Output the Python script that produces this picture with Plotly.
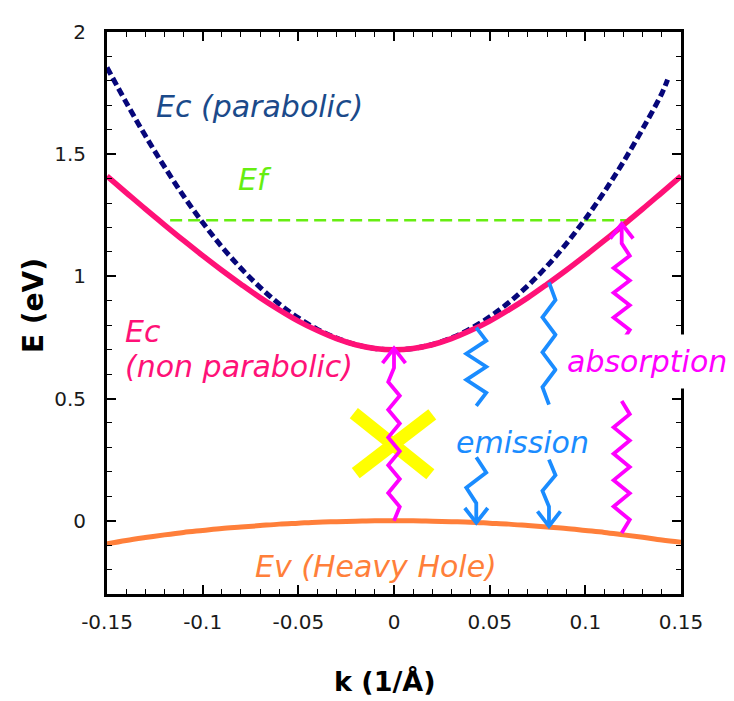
import plotly.graph_objects as go

# ---------------- data ----------------
K = [-0.15, -0.14, -0.13, -0.12, -0.11, -0.10, -0.09, -0.08, -0.07, -0.06, -0.05,
     -0.04, -0.03, -0.02, -0.01, 0.0, 0.01, 0.02, 0.03, 0.04, 0.05, 0.06, 0.07,
     0.08, 0.09, 0.10, 0.11, 0.12, 0.13, 0.14, 0.15]
EC_NONPARA = [1.410, 1.343, 1.276, 1.211, 1.147, 1.085, 1.025, 0.968, 0.913, 0.863, 0.817,
              0.778, 0.745, 0.720, 0.705, 0.700, 0.705, 0.720, 0.745, 0.778, 0.817, 0.863,
              0.913, 0.968, 1.025, 1.085, 1.147, 1.211, 1.276, 1.343, 1.410]
EV_HH = [-0.095, -0.081, -0.069, -0.058, -0.048, -0.040, -0.032, -0.026, -0.020, -0.014, -0.010,
         -0.006, -0.004, -0.002, 0.000, 0.000, 0.000, -0.002, -0.004, -0.006, -0.010, -0.014,
         -0.020, -0.026, -0.032, -0.040, -0.048, -0.058, -0.068, -0.079, -0.088]

K_PARA = [-0.15, -0.14, -0.13, -0.12, -0.11, -0.10, -0.09, -0.08, -0.07, -0.06, -0.05,
          -0.04, -0.03, -0.02, -0.01, 0.0, 0.01, 0.02, 0.03, 0.04, 0.05, 0.06, 0.07,
          0.08, 0.09, 0.10, 0.11, 0.12, 0.13, 0.14, 0.143]
EC_PARA = [1.855, 1.712, 1.576, 1.449, 1.329, 1.220, 1.121, 1.033, 0.955, 0.887, 0.830,
           0.783, 0.747, 0.721, 0.705, 0.700, 0.705, 0.721, 0.748, 0.786, 0.834, 0.893,
           0.962, 1.042, 1.133, 1.235, 1.347, 1.470, 1.604, 1.749, 1.805]

EF_K = [-0.117, 0.122]
EF_E = [1.23, 1.23]

X_TICKS = [-0.15, -0.1, -0.05, 0, 0.05, 0.1, 0.15]
X_TICK_TEXT = ["-0.15", "-0.1", "-0.05", "0", "0.05", "0.1", "0.15"]
Y_TICKS = [0, 0.5, 1, 1.5, 2]
Y_TICK_TEXT = ["0", "0.5", "1", "1.5", "2"]

# transitions: k position, list of (E_from, E_to) segments; last segment ends at arrow tip
ABS_K = [0.0, 0.119]
ABS_SEGMENTS = [[(0.0, 0.705)], [(-0.05, 0.49), (0.73, 1.215)]]
EMI_K = [0.043, 0.081]
EMI_SEGMENTS = [[(0.79, 0.47), (0.26, -0.008)], [(0.975, 0.475), (0.25, -0.022)]]

# forbidden transition cross (two strokes)
CROSS_K = [[-0.021, 0.019], [0.020, -0.020]]
CROSS_E = [[0.44, 0.19], [0.435, 0.195]]

# ---------------- styles ----------------
PINK = "#FF1177"
NAVY = "#06067A"
ORANGE = "#FF7F3A"
GREEN = "#66EE11"
MAGENTA = "#FF00FF"
BLUE = "#1A8CFF"
YELLOW = "#FFFF00"
FONT = "DejaVu Sans"

ABS_AMP = [0.0030, 0.0042]
ABS_HALF = [0.058, 0.052]
EMI_AMP = [0.0052, 0.0034]
EMI_HALF = [0.056, 0.075]
HEAD_W = 0.006
HEAD_H = 0.06

# page body has an 8px default margin; compensate so the plot lands where the reference is
BODY = 8


def zigzag(k, e0, e1, amp, half, straight):
    sgn = 1 if e1 > e0 else -1
    ez = e1 - sgn * straight
    n = max(2, round(abs(ez - e0) / half))
    step = (ez - e0) / n
    ks, es = [k], [e0]
    for i in range(1, n):
        ks.append(k + amp * (1 if i % 2 else -1))
        es.append(e0 + i * step)
    ks.append(k)
    es.append(ez)
    if straight > 0:
        ks.append(k)
        es.append(e1)
    return ks, es


fig = go.Figure()

fig.add_trace(go.Scatter(x=EF_K, y=EF_E, mode="lines",
                         line=dict(color=GREEN, width=2.5, dash="12px,6px"), hoverinfo="skip"))
fig.add_trace(go.Scatter(x=K_PARA, y=EC_PARA, mode="lines",
                         line=dict(color=NAVY, width=5, dash="8px,4px", shape="spline"), hoverinfo="skip"))
fig.add_trace(go.Scatter(x=K, y=EC_NONPARA, mode="lines",
                         line=dict(color=PINK, width=5.5, shape="spline"), hoverinfo="skip"))
fig.add_trace(go.Scatter(x=K, y=EV_HH, mode="lines",
                         line=dict(color=ORANGE, width=5, shape="spline"), hoverinfo="skip"))

for ck, ce in zip(CROSS_K, CROSS_E):
    fig.add_trace(go.Scatter(x=ck, y=ce, mode="lines",
                             line=dict(color=YELLOW, width=13), hoverinfo="skip"))


def add_transition(k, segs, amp, half, color, up):
    for j, (e0, e1) in enumerate(segs):
        last = j == len(segs) - 1
        ks, es = zigzag(k, e0, e1, amp, half, 0.08 if last else 0.0)
        fig.add_trace(go.Scatter(x=ks, y=es, mode="lines",
                                 line=dict(color=color, width=3.8), hoverinfo="skip"))
        if last:
            d = -HEAD_H if up else HEAD_H
            fig.add_trace(go.Scatter(x=[k - HEAD_W, k, k + HEAD_W], y=[e1 + d, e1, e1 + d],
                                     mode="lines", line=dict(color=color, width=3.8),
                                     hoverinfo="skip"))


for k, segs, a, h in zip(ABS_K, ABS_SEGMENTS, ABS_AMP, ABS_HALF):
    add_transition(k, segs, a, h, MAGENTA, True)
for k, segs, a, h in zip(EMI_K, EMI_SEGMENTS, EMI_AMP, EMI_HALF):
    add_transition(k, segs, a, h, BLUE, False)


def label(text, x, y, color, xanchor="left", bg=None, pad=1):
    fig.add_annotation(x=x, y=y, xref="x", yref="y", text="<i>" + text + "</i>",
                       showarrow=False, xanchor=xanchor, yanchor="middle",
                       font=dict(family=FONT, size=30, color=color),
                       bgcolor=bg, borderpad=pad)


label("Ec (parabolic)", -0.1255, 1.697, "#1B4A8A")
label("Ef", -0.0727, 1.395, GREEN, xanchor="center")
label("Ec", -0.1415, 0.776, PINK)
label("(non parabolic)", -0.1415, 0.631, PINK)
label("Ev (Heavy Hole)", -0.0094, -0.189, ORANGE, xanchor="center")
label("emission", 0.0669, 0.318, BLUE, xanchor="center")
label("absorption", 0.085, 0.651, MAGENTA, bg="white", pad=9)

fig.add_annotation(text="<b>E (eV)</b>", xref="paper", yref="paper", x=-0.129, y=0.514,
                   textangle=-90, showarrow=False, xanchor="center", yanchor="middle",
                   font=dict(family=FONT, size=28, color="black"))
fig.add_annotation(text="<b>k (1/Å)</b>", xref="paper", yref="paper", x=0.484, y=-0.155,
                   showarrow=False, xanchor="center", yanchor="middle",
                   font=dict(family=FONT, size=27, color="black"))

axis_common = dict(showline=True, linecolor="black", linewidth=3, mirror="ticks",
                   ticks="inside", ticklen=9, tickwidth=1.5, tickcolor="black",
                   showgrid=False, zeroline=False, tickmode="array",
                   tickfont=dict(family=FONT, size=20, color="#1a1a1a"))

fig.update_xaxes(range=[-0.15, 0.15], tickvals=X_TICKS, ticktext=X_TICK_TEXT,
                 minor=dict(tickmode="linear", tick0=0, dtick=0.01, ticks="inside",
                            ticklen=5, tickwidth=1.2, tickcolor="black"),
                 ticklabelstandoff=8, **axis_common)
fig.update_yaxes(range=[-0.3, 2], tickvals=Y_TICKS, ticktext=Y_TICK_TEXT,
                 minor=dict(tickmode="linear", tick0=0, dtick=0.1, ticks="inside",
                            ticklen=5, tickwidth=1.2, tickcolor="black"),
                 ticklabelstandoff=14, **axis_common)

fig.update_layout(width=734 - BODY, height=701 - BODY,
                  margin=dict(l=107 - BODY, r=53, t=22 - BODY, b=107),
                  plot_bgcolor="white", paper_bgcolor="white", showlegend=False,
                  font=dict(family=FONT))

fig.write_html("out.html")
